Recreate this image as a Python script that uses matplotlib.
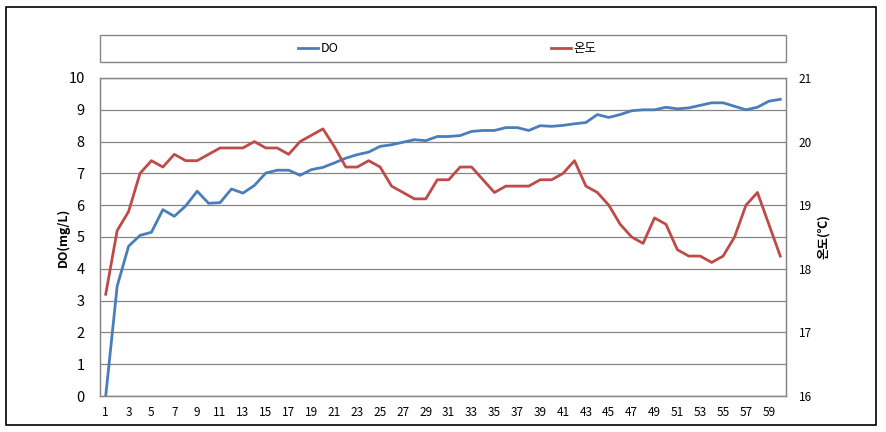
import matplotlib
matplotlib.use("Agg")
import matplotlib.pyplot as plt
from matplotlib.patches import Rectangle
import numpy as np

plt.rcParams['font.family'] = ['Noto Sans CJK KR', 'DejaVu Sans']

# data
days = np.arange(1, 61)
do_vals = [0.0, 3.45, 4.71, 5.05, 5.15, 5.86, 5.65, 5.98, 6.44, 6.06,
           6.08, 6.51, 6.38, 6.62, 7.01, 7.10, 7.10, 6.94, 7.12, 7.19,
           7.33, 7.48, 7.59, 7.67, 7.85, 7.90, 7.98, 8.06, 8.03, 8.16,
           8.16, 8.19, 8.32, 8.35, 8.35, 8.44, 8.44, 8.35, 8.50, 8.48,
           8.51, 8.56, 8.60, 8.85, 8.76, 8.85, 8.97, 9.00, 9.00, 9.08,
           9.03, 9.06, 9.14, 9.22, 9.22, 9.11, 9.00, 9.08, 9.27, 9.33]
temp_vals = [17.6, 18.6, 18.9, 19.5, 19.7, 19.6, 19.8, 19.7, 19.7, 19.8,
             19.9, 19.9, 19.9, 20.0, 19.9, 19.9, 19.8, 20.0, 20.1, 20.2,
             19.92, 19.6, 19.6, 19.7, 19.6, 19.3, 19.2, 19.1, 19.1, 19.4,
             19.4, 19.6, 19.6, 19.4, 19.2, 19.3, 19.3, 19.3, 19.4, 19.4,
             19.5, 19.7, 19.3, 19.2, 19.0, 18.7, 18.5, 18.4, 18.8, 18.7,
             18.3, 18.2, 18.2, 18.1, 18.2, 18.5, 19.0, 19.2, 18.7, 18.2]
xtick_labels = [str(d) for d in range(1, 60, 2)]

W, H = 887, 432
fig = plt.figure(figsize=(W / 100, H / 100), dpi=100)

# outer frame
fig.patches.append(Rectangle((6 / W, 1 - 425 / H), 870 / W, 418 / H,
                             transform=fig.transFigure, fill=False,
                             edgecolor='black', linewidth=1.2))
# legend box
fig.patches.append(Rectangle((100 / W, 1 - 62 / H), 686 / W, 27 / H,
                             transform=fig.transFigure, fill=False,
                             edgecolor='#868686', linewidth=1.0))

ax = fig.add_axes([100 / W, 1 - 396 / H, 686 / W, 318 / H])
ax2 = ax.twinx()

blue = '#4A7EBB'
red = '#BE4B48'
grid_c = '#868686'

l1, = ax.plot(days, do_vals, color=blue, linewidth=2.0, label='DO', zorder=3)
l2, = ax2.plot(days, temp_vals, color=red, linewidth=2.0, label='온도', zorder=3)

ax.set_xlim(0.5, 60.5)
ax.set_ylim(0, 10)
ax2.set_ylim(16, 21)
ax.set_yticks(range(0, 11))
ax2.set_yticks(range(16, 22))
ax.set_xticks(range(1, 60, 2))
ax.set_xticklabels(xtick_labels)

ax.yaxis.grid(True, color=grid_c, linewidth=0.9)
ax.set_axisbelow(True)

for a in (ax, ax2):
    for s in a.spines.values():
        s.set_color(grid_c)
        s.set_linewidth(0.9)

ax.tick_params(axis='y', length=0, pad=11, labelsize=10.5, colors='black')
ax.tick_params(axis='x', length=0, pad=7, labelsize=8.5, colors='black')
ax2.tick_params(axis='y', length=0, pad=9, labelsize=8.5, colors='black')

ax.set_ylabel('DO(mg/L)', fontsize=9, fontweight='bold', labelpad=-1)
ax2.set_ylabel('온도(℃)', fontsize=9, fontweight='bold', labelpad=4)

fig.legend(handles=[l1, l2], loc='center', ncol=2, frameon=False,
           bbox_to_anchor=(447 / W, 1 - 48.5 / H), fontsize=9,
           handlelength=1.6, handletextpad=0.2, columnspacing=17)

fig.savefig('out.png', dpi=100)
